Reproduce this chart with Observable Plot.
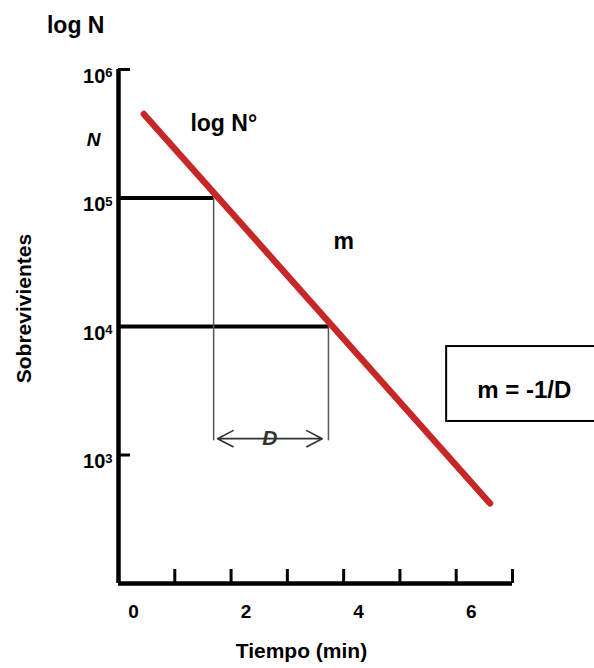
<!DOCTYPE html>
<html><head><meta charset="utf-8">
<script src="https://cdn.jsdelivr.net/npm/d3@7"></script>
<script src="https://cdn.jsdelivr.net/npm/@observablehq/plot@0.6"></script>
<style>body{margin:0;background:#fff}</style>
</head><body><div id="chart"></div>
<script>
// Survival curve
const tiempo = [0.45, 6.6];
const sobrevivientes = [450000, 420];
// reference levels on the curve
const refN = [1e5, 1e4];
const refT = [1.69, 3.73];
const refBottom = 1290;
// D arrow
const arrowN = 1340;
const dStart = 1.76, dEnd = 3.62;
// ticks
const xTicks = [1, 2, 3, 4, 5, 6, 7];
const xLabels = [0, 2, 4, 6];
const yTicks = [1e3, 1e4, 1e5, 1e6];
const yExponents = ["3", "4", "5", "6"];
const yInTicks = [1e3, 1e6];

const curve = tiempo.map((t, i) => ({t, n: sobrevivientes[i]}));
const refs = refN.map((n, i) => ({n, t: refT[i]}));
const mid = (dStart + dEnd) / 2;
const font = "'Liberation Sans', Arial, sans-serif";

const chart = Plot.plot({
  width: 594, height: 668,
  marginLeft: 118, marginRight: 82, marginTop: 69, marginBottom: 85,
  x: {domain: [0, 7]},
  y: {type: "log", domain: [100, 1e6]},
  style: {fontFamily: font, fontWeight: "bold", background: "white", overflow: "visible", color: "black"},
  marks: [
    // annotation box
    Plot.rect([0], {x1: 5.83, x2: 8.6, y1: Math.pow(10, 3.261), y2: Math.pow(10, 3.844), fill: "white", stroke: "black", strokeWidth: 2}),
    Plot.text(["m = -1/D"], {x: 7.21, y: Math.pow(10, 3.50), fontSize: 24, fontWeight: "bold"}),
    // horizontal reference lines
    Plot.ruleY(refs, {y: "n", x1: 0, x2: "t", stroke: "black", strokeWidth: 4}),
    // vertical thin lines
    Plot.ruleX(refs, {x: "t", y1: "n", y2: refBottom, stroke: "#555", strokeWidth: 1.5}),
    // D arrows
    Plot.arrow([dStart, dEnd], {x1: mid, x2: d => d, y1: arrowN, y2: arrowN, stroke: "#333", strokeWidth: 1.6, headLength: 20, headAngle: 55}),
    Plot.text(["D"], {x: mid, y: arrowN, fontSize: 21, fontStyle: "italic", fontWeight: "bold", fill: "#333"}),
    // survival line
    Plot.line(curve, {x: "t", y: "n", stroke: "#c62828", strokeWidth: 6.5, strokeLinecap: "round"}),
    // axis lines
    Plot.ruleX([0], {y1: 100, y2: 1e6, stroke: "black", strokeWidth: 4.5}),
    Plot.ruleY([100], {x1: 0, x2: 7, stroke: "black", strokeWidth: 4.5}),
    // inward ticks
    Plot.axisX({ticks: xTicks, tickSize: -14, strokeWidth: 3, fill: "none", label: null}),
    Plot.axisY({ticks: yInTicks, tickSize: -12, strokeWidth: 3, fill: "none", label: null}),
    // tick labels
    Plot.axisX({ticks: xLabels, tickSize: 0, tickPadding: 21, dx: 15, fontSize: 19, label: null, tickFormat: d => String(d)}),
    Plot.axisY({ticks: yTicks, tickSize: 0, tickPadding: 6, dy: 7, fontSize: 20, label: null,
      tickFormat: d => "10^" + yExponents[yTicks.indexOf(d)]}),
    // labels
    Plot.text(["log N"], {x: -0.76, y: Math.pow(10, 6.34), fontSize: 23, fontWeight: "bold"}),
    Plot.text(["N"], {x: -0.44, y: Math.pow(10, 5.45), fontSize: 19, fontStyle: "italic", fontWeight: "bold"}),
    Plot.text(["log N\u00B0"], {x: 1.87, y: Math.pow(10, 5.58), fontSize: 23, fontWeight: "bold"}),
    Plot.text(["m"], {x: 4.0, y: Math.pow(10, 4.66), fontSize: 23, fontWeight: "bold"}),
    Plot.text(["Sobrevivientes"], {x: -1.67, y: Math.pow(10, 4.14), rotate: -90, fontSize: 21, fontWeight: "bold"}),
    Plot.text(["Tiempo (min)"], {x: 3.25, y: Math.pow(10, 1.47), fontSize: 21, fontWeight: "bold"})
  ]
});
// render "10^k" tick labels with a real superscript
d3.select(chart).selectAll('g[aria-label="y-axis tick label"] text').each(function() {
  const s = this.textContent;
  if (s.indexOf("^") < 0) return;
  const [base, exp] = s.split("^");
  const t = d3.select(this);
  t.text(null);
  t.append("tspan").text(base);
  t.append("tspan").attr("dy", "-0.45em").attr("font-size", "13").text(exp);
});
document.getElementById("chart").appendChild(chart);
</script>
</body></html>
